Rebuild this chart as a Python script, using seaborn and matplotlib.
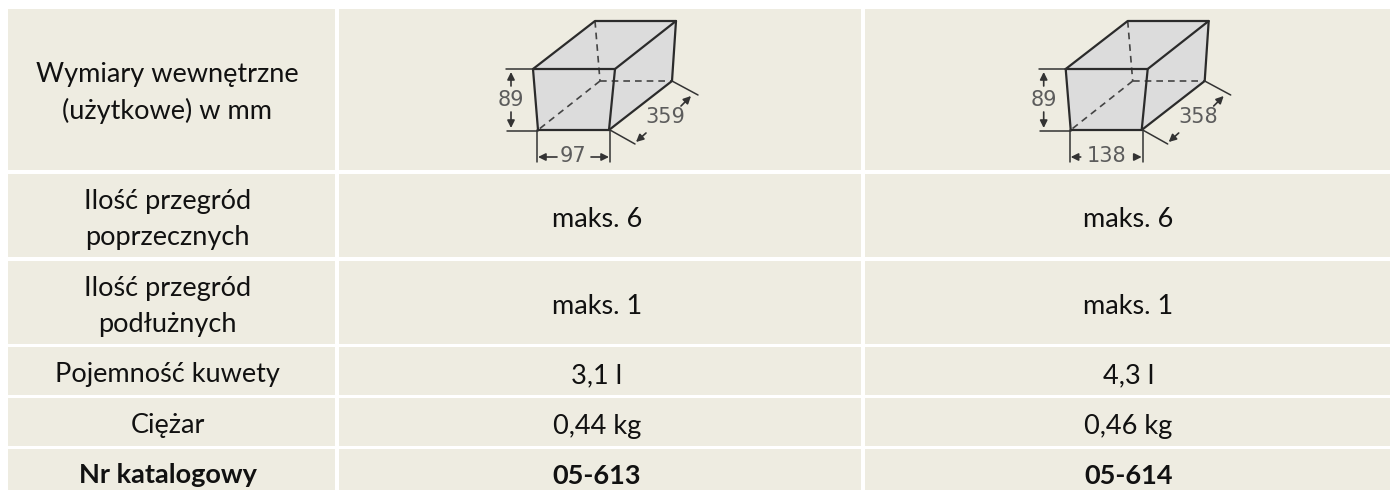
"""Catalogue table for two tray sizes, with dimension sketches in the first row."""

import matplotlib.pyplot as plt
import numpy as np
import seaborn as sns
from matplotlib.colors import ListedColormap

ROW_LABELS = [
    "Wymiary wewnętrzne\n(użytkowe) w mm",
    "Ilość przegród\npoprzecznych",
    "Ilość przegród\npodłużnych",
    "Pojemność kuwety",
    "Ciężar",
    "Nr katalogowy",
]
VALUES_613 = ["", "maks. 6", "maks. 1", "3,1 l", "0,44 kg", "05-613"]
VALUES_614 = ["", "maks. 6", "maks. 1", "4,3 l", "0,46 kg", "05-614"]

HEIGHT_LABELS = ["89", "89"]
WIDTH_LABELS = ["97", "138"]
DEPTH_LABELS = ["359", "358"]

# cell edges in pixels (last row runs off the bottom of the page)
COL_EDGES = [(8, 335), (339, 861), (865, 1390)]
ROW_EDGES = [(9, 170), (174, 257), (261, 344), (347, 395), (398, 446), (449, 507)]
# text is not quite centred in the source, so place it by pixel
COL_CENTERS = [167.5, 597, 1128.5]
LABEL_BASELINES = [119, 245, 332, 382, 433, 483]
VALUE_BASELINES = [227, 227, 314, 383, 434, 484]
W, H = 1390, 490

CELL = "#eeece1"
LINE = "#2b2b2b"
DIM = "#5c5c5c"

sns.set_theme(style="white")
plt.rcParams["font.family"] = ["Lato", "DejaVu Sans"]

fig = plt.figure(figsize=(W / 100, H / 100), dpi=100, facecolor="white")


def add_cell(x0, x1, y0, y1, label, bold, center, baseline):
    ax = fig.add_axes([x0 / W, 1 - y1 / H, (x1 - x0) / W, (y1 - y0) / H])
    sns.heatmap(
        np.zeros((1, 1)),
        annot=np.array([[label]]),
        fmt="",
        cmap=ListedColormap([CELL]),
        cbar=False,
        xticklabels=False,
        yticklabels=False,
        annot_kws={
            "color": "#111111",
            "fontsize": 19.5,
            "fontweight": "bold" if bold else "normal",
            "linespacing": 1.53,
            "va": "baseline",
        },
        ax=ax,
    )
    for t in ax.texts:
        t.set_x((center - x0) / (x1 - x0))
        t.set_y((baseline - y0) / (y1 - y0))


columns = [ROW_LABELS, VALUES_613, VALUES_614]
baselines = [LABEL_BASELINES, VALUE_BASELINES, VALUE_BASELINES]
for c, (x0, x1) in enumerate(COL_EDGES):
    for i, (y0, y1) in enumerate(ROW_EDGES):
        add_cell(x0, x1, y0, y1, columns[c][i], i == len(ROW_EDGES) - 1, COL_CENTERS[c], baselines[c][i])

# overlay in pixel coordinates for the two sketches
sketch = fig.add_axes([0, 0, 1, 1], facecolor="none")
sketch.set_xlim(0, W)
sketch.set_ylim(H, 0)
sketch.axis("off")


def seg(ax, pts, dx, lw=1.6, color=LINE, **kw):
    xs = [p[0] + dx for p in pts]
    ys = [p[1] for p in pts]
    ax.plot(xs, ys, color=color, lw=lw, solid_capstyle="round", **kw)


def arrow(ax, start, end, dx):
    ax.annotate(
        "",
        xy=(end[0] + dx, end[1]),
        xytext=(start[0] + dx, start[1]),
        arrowprops=dict(arrowstyle="-|>", color="#333333", lw=1.2, mutation_scale=11, shrinkA=0, shrinkB=0),
    )


def draw_box(ax, dx, height, width, depth, width_arrows, width_x):
    front = [(533, 69), (615, 69), (609, 130), (538, 130)]
    top = [(533, 69), (595, 21), (676, 21), (615, 69)]
    side = [(615, 69), (676, 21), (672, 81), (609, 130)]
    for face in (front, top, side):
        ax.fill([p[0] + dx for p in face], [p[1] for p in face], color="#dcdcdc", lw=0)

    for a, b in [((595, 21), (600, 81)), ((600, 81), (672, 81)), ((600, 81), (538, 130))]:
        seg(ax, [a, b], dx, lw=1.2, color="#444444", linestyle=(0, (4, 3)))

    seg(ax, front + [front[0]], dx)
    seg(ax, [(533, 69), (595, 21), (676, 21), (615, 69)], dx)
    seg(ax, [(676, 21), (672, 81), (609, 130)], dx)

    # extension lines
    for a, b in [
        ((506, 69), (533, 69)),
        ((507, 131), (538, 131)),
        ((537, 130), (537, 162)),
        ((610, 130), (610, 162)),
        ((672, 81), (698, 95)),
        ((610, 130), (635, 144)),
    ]:
        seg(ax, [a, b], dx, lw=1.1, color="#333333")

    arrow(ax, (511, 86), (511, 72), dx)
    arrow(ax, (511, 112), (511, 128), dx)
    arrow(ax, (width_arrows[0], 157), (538, 157), dx)
    arrow(ax, (width_arrows[1], 157), (609, 157), dx)
    arrow(ax, (681, 106), (691, 96), dx)
    arrow(ax, (646, 133), (636, 142), dx)

    for label, x, y in [(height, 511, 100), (width, width_x, 156), (depth, 665, 117)]:
        ax.text(x + dx, y, label, ha="center", va="center", color=DIM, fontsize=15, family="DejaVu Sans")


draw_box(sketch, 0, HEIGHT_LABELS[0], WIDTH_LABELS[0], DEPTH_LABELS[0], (557, 591), 573)
draw_box(sketch, 532.7, HEIGHT_LABELS[1], WIDTH_LABELS[1], DEPTH_LABELS[1], (548, 601), 574)

fig.savefig("out.png", dpi=100)
